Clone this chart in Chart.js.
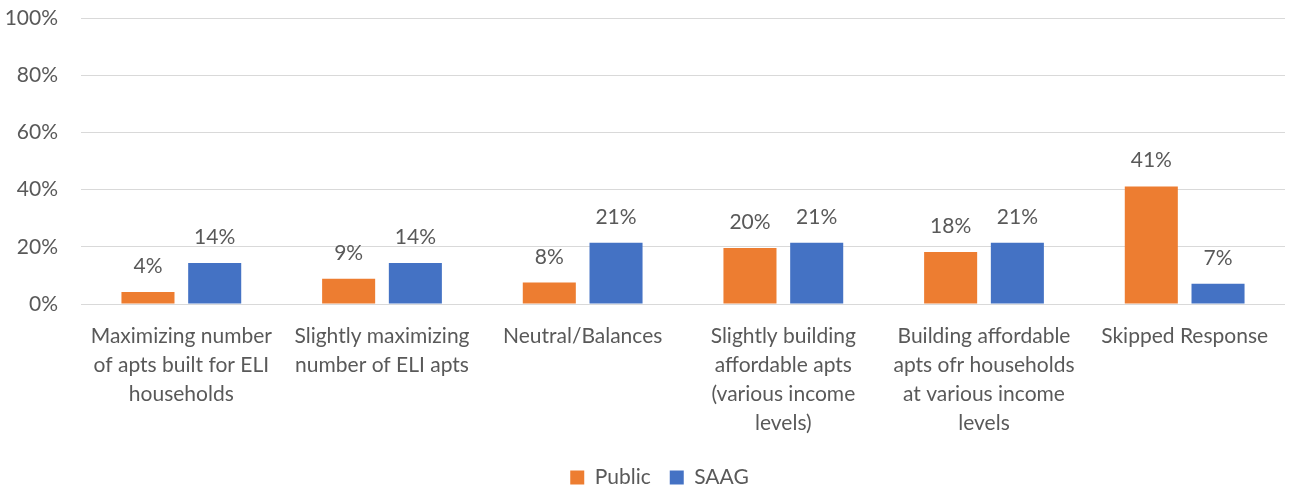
<!DOCTYPE html>
<html>
<head>
<meta charset="utf-8">
<script src="https://cdn.jsdelivr.net/npm/chart.js@4.4.1/dist/chart.umd.min.js"></script>
<style>
  html, body { margin: 0; padding: 0; background: #ffffff; }
  #wrap { width: 1291px; height: 488px; position: relative; }
</style>
</head>
<body>
<div id="wrap"><canvas id="c" width="1291" height="488"></canvas></div>
<script>
const categories = [
  ["Maximizing number", "of apts built for ELI", "households"],
  ["Slightly maximizing", "number of ELI apts"],
  ["Neutral/Balances"],
  ["Slightly building", "affordable apts", "(various income", "levels)"],
  ["Building affordable", "apts ofr households", "at various income", "levels"],
  ["Skipped Response"]
];
const seriesNames = ["Public", "SAAG"];
const publicValues = [4.2, 8.8, 7.5, 19.6, 18.2, 41.1];
const saagValues = [14.3, 14.3, 21.4, 21.4, 21.4, 7.1];
const yTicks = [0, 20, 40, 60, 80, 100];

const TEXT = '#595959';
const FONT = 'Lato';

const valueLabels = {
  id: 'valueLabels',
  afterLayout(chart) {
    if (chart.legend) {
      chart.legend.left += 17;
      chart.legend.right += 17;
    }
  },
  afterDatasetsDraw(chart) {
    const ctx = chart.ctx;
    ctx.save();
    ctx.font = '21px ' + FONT;
    ctx.fillStyle = TEXT;
    ctx.textAlign = 'center';
    ctx.textBaseline = 'alphabetic';
    chart.data.datasets.forEach((ds, di) => {
      const meta = chart.getDatasetMeta(di);
      meta.data.forEach((bar, i) => {
        ctx.fillText(Math.round(ds.data[i]) + '%', bar.x, bar.y - 19);
      });
    });
    ctx.restore();
  }
};

new Chart(document.getElementById('c'), {
  type: 'bar',
  data: {
    labels: categories,
    datasets: [
      { label: seriesNames[0], data: publicValues, backgroundColor: '#ED7D31', borderWidth: 0,
        categoryPercentage: 0.665, barPercentage: 0.795 },
      { label: seriesNames[1], data: saagValues, backgroundColor: '#4472C4', borderWidth: 0,
        categoryPercentage: 0.665, barPercentage: 0.795 }
    ]
  },
  options: {
    responsive: false,
    animation: false,
    layout: { padding: { left: 0, right: 6, top: 18, bottom: -10 } },
    plugins: {
      tooltip: { enabled: false },
      legend: {
        position: 'bottom',
        labels: {
          color: TEXT,
          font: { family: FONT, size: 21 },
          boxWidth: 14,
          boxHeight: 14,
          padding: 19
        }
      }
    },
    scales: {
      x: {
        grid: { display: false, drawTicks: false },
        border: { display: false },
        ticks: {
          color: TEXT,
          font: { family: FONT, size: 21, lineHeight: 1.38 },
          padding: 18,
          maxRotation: 0,
          autoSkip: false
        },
        afterFit(scale) { scale.height = 144; }
      },
      y: {
        min: 0, max: 100,
        afterBuildTicks(scale) { scale.ticks = yTicks.map(v => ({ value: v })); },
        grid: { color: '#D9D9D9', lineWidth: 1, drawTicks: false },
        border: { display: false },
        ticks: {
          color: TEXT,
          font: { family: FONT, size: 21 },
          padding: 23,
          callback: v => v + '%'
        },
        afterFit(scale) {
          scale.width = 81;
          scale.paddingTop = 0;
          scale.paddingBottom = 0;
        }
      }
    }
  },
  plugins: [valueLabels]
});
</script>
</body>
</html>
